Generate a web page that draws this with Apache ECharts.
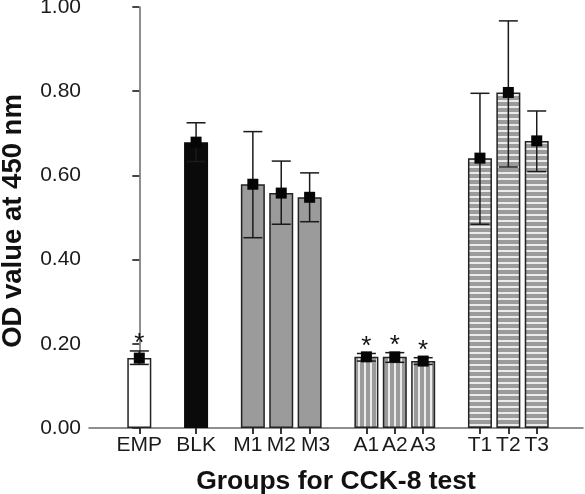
<!DOCTYPE html>
<html>
<head>
<meta charset="utf-8">
<script src="https://cdn.jsdelivr.net/npm/echarts@6/dist/echarts.min.js"></script>
<style>
  html, body { margin: 0; padding: 0; background: #fff; }
  #chart { width: 585px; height: 494px; }
</style>
</head>
<body>
<div id="chart"></div>
<script>
// ---- data ----
const categories = ['EMP', '', 'BLK', '', 'M1', 'M2', 'M3', '', 'A1', 'A2', 'A3', '', 'T1', 'T2', 'T3'];
const means   = [0.166, null, 0.679, null, 0.579, 0.558, 0.548, null, 0.169, 0.169, 0.159, null, 0.641, 0.797, 0.682];
const errLow  = [0.151, null, 0.633, null, 0.452, 0.484, 0.490, null, 0.159, 0.156, 0.151, null, 0.484, 0.620, 0.609];
const errHigh = [0.183, null, 0.725, null, 0.704, 0.634, 0.606, null, 0.177, 0.179, 0.167, null, 0.795, 0.967, 0.753];
const marks   = ['*', '', '', '', '', '', '', '', '*', '*', '*', '', '', '', ''];
const yTicks  = [0, 0.2, 0.4, 0.6, 0.8, 1.0];
const xTitle = 'Groups for CCK-8 test';
const yTitle = 'OD value at 450 nm';

// ---- styles ----
const FONT = '"Liberation Sans", Arial, Helvetica, sans-serif';
const GRAY = '#9b9b9b';
function stripeCanvas(vertical) {
  const c = document.createElement('canvas');
  c.width = 6; c.height = 6;
  const g = c.getContext('2d');
  g.fillStyle = GRAY; g.fillRect(0, 0, 6, 6);
  g.fillStyle = '#ffffff';
  if (vertical) g.fillRect(4.2, 0, 1.6, 6); else g.fillRect(0, 4.2, 6, 1.6);
  return c;
}
const vPattern = { image: stripeCanvas(true), repeat: 'repeat' };
const hPattern = { image: stripeCanvas(false), repeat: 'repeat' };
function styleFor(name) {
  const border = { borderColor: '#222', borderWidth: 1.5 };
  if (name === 'EMP') return Object.assign({ color: '#ffffff' }, border);
  if (name === 'BLK') return { color: '#0a0a0a', borderColor: '#0a0a0a', borderWidth: 1.5 };
  if (name[0] === 'M') return Object.assign({ color: GRAY }, border);
  if (name[0] === 'A') return Object.assign({ color: vPattern }, border);
  return Object.assign({ color: hPattern }, border);
}
// labels of a crowded group are spread a little to keep them apart
function labelFor(v) {
  const name = categories[Math.round(v)] || '';
  if (name === 'M1') return '{l|' + name + '}';
  if (name === 'M3') return '{r|' + name + '}';
  return '{c|' + name + '}';
}
const labelRich = {
  l: { fontFamily: FONT, fontSize: 21, color: '#1a1a1a', padding: [0, 10, 0, 0] },
  r: { fontFamily: FONT, fontSize: 21, color: '#1a1a1a', padding: [0, 0, 0, 12] },
  c: { fontFamily: FONT, fontSize: 21, color: '#1a1a1a' }
};

const idx = categories.map((c, i) => i).filter(i => categories[i] !== '');
const barData = idx.map(i => ({ value: [i, means[i]], itemStyle: styleFor(categories[i]) }));
const errData = idx.map(i => [i, errLow[i], errHigh[i], i]);
const markerData = idx.map(i => [i, means[i]]);

const chart = echarts.init(document.getElementById('chart'), null, { renderer: 'canvas' });
chart.setOption({
  animation: false,
  backgroundColor: '#ffffff',
  grid: { left: 89, right: 2, top: 7, bottom: 66, containLabel: false, outerBoundsMode: 'none' },
  xAxis: {
    type: 'value',
    min: -1.772,
    max: 15.63,
    splitLine: { show: false },
    axisLine: { show: true, onZero: false, lineStyle: { color: '#6a6a6a', width: 1.5 } },
    axisTick: { show: true, customValues: idx, length: 6, lineStyle: { color: '#222', width: 1.8 } },
    axisLabel: {
      customValues: idx,
      hideOverlap: false,
      formatter: labelFor,
      rich: labelRich,
      fontFamily: FONT, fontSize: 21, color: '#1a1a1a', margin: 7
    },
    name: xTitle,
    nameLocation: 'middle',
    nameGap: 40,
    nameTextStyle: { fontFamily: FONT, fontSize: 26.5, fontWeight: 'bold', color: '#111' }
  },
  yAxis: {
    type: 'value',
    min: 0, max: 1, interval: 0.2,
    splitLine: { show: false },
    axisLine: { show: true, lineStyle: { color: '#6a6a6a', width: 1.5 } },
    axisTick: { show: true, length: 7, lineStyle: { color: '#333', width: 1.8 } },
    axisLabel: {
      customValues: yTicks,
      hideOverlap: false,
      formatter: v => v.toFixed(2),
      fontFamily: FONT, fontSize: 21, color: '#1a1a1a', margin: 8
    },
    name: yTitle,
    nameLocation: 'middle',
    nameRotate: 90,
    nameGap: 62,
    nameTextStyle: { fontFamily: FONT, fontSize: 27.5, fontWeight: 'bold', color: '#111', padding: [0, 7, 0, 0] }
  },
  series: [
    {
      type: 'bar',
      data: barData,
      barWidth: 24,
      z: 2
    },
    {
      type: 'custom',
      z: 3,
      data: errData,
      renderItem: function (params, api) {
        const x = api.value(0);
        const lo = api.coord([x, api.value(1)]);
        const hi = api.coord([x, api.value(2)]);
        const i = api.value(3);
        const hw = 9.5;
        const st = { stroke: '#1a1a1a', lineWidth: 1.5 };
        const children = [
          { type: 'line', shape: { x1: hi[0], y1: hi[1], x2: lo[0], y2: lo[1] }, style: st },
          { type: 'line', shape: { x1: hi[0] - hw, y1: hi[1], x2: hi[0] + hw, y2: hi[1] }, style: st },
          { type: 'line', shape: { x1: lo[0] - hw, y1: lo[1], x2: lo[0] + hw, y2: lo[1] }, style: st }
        ];
        if (marks[i]) {
          children.push({
            type: 'text',
            style: {
              text: marks[i], x: hi[0], y: hi[1] - 7,
              align: 'center', verticalAlign: 'middle',
              font: '26px ' + FONT, fill: '#111'
            }
          });
        }
        return { type: 'group', children: children };
      }
    },
    {
      type: 'scatter',
      z: 4,
      data: markerData,
      symbol: 'rect',
      symbolSize: 11,
      itemStyle: { color: '#050505', opacity: 1 }
    }
  ]
});
</script>
</body>
</html>
